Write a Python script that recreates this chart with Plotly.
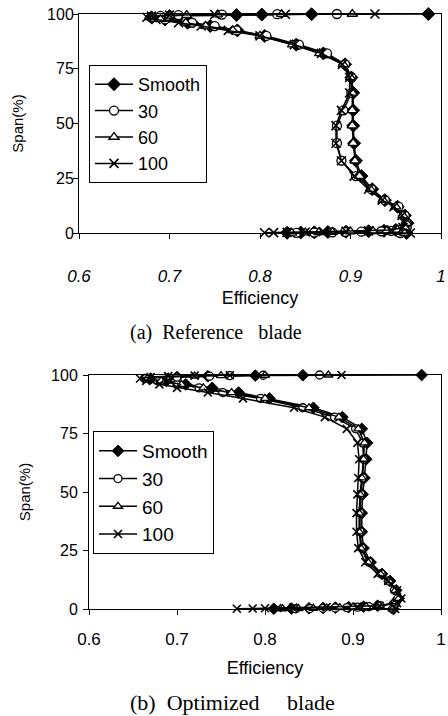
import plotly.graph_objects as go

# ---------------- data ----------------
SERIES = ["Smooth", "30", "60", "100"]

SPAN = [0, 0.1, 0.2, 0.3, 0.45, 0.6, 0.8, 1.0, 1.4, 2.5, 4.5, 8, 12, 15, 20, 26,
        33, 41, 49, 56, 64, 71, 77, 82, 86, 90, 92.5, 94.5, 96, 97.5, 98.5,
        99.1, 99.5, 99.75, 99.9, 100]

# (a) Reference blade
REF_SMOOTH = [0.962, 0.83, 0.845, 0.86, 0.875, 0.895, 0.92, 0.937, 0.95, 0.96, 0.963, 0.96,
              0.952, 0.938, 0.924, 0.912, 0.906, 0.904, 0.903, 0.903, 0.903, 0.901, 0.894,
              0.87, 0.84, 0.805, 0.775, 0.745, 0.72, 0.695, 0.68, 0.70, 0.774, 0.802, 0.857, 0.986]
REF_30 = [0.955, 0.84, 0.86, 0.88, 0.894, 0.912, 0.934, 0.945, 0.953, 0.962, 0.962, 0.960,
          0.953, 0.938, 0.923, 0.906, 0.890, 0.885, 0.885, 0.892, 0.901, 0.901, 0.894,
          0.874, 0.843, 0.807, 0.774, 0.75, 0.725, 0.695, 0.68, 0.69, 0.71, 0.758, 0.819, 0.885]
REF_60 = [0.96, 0.835, 0.85, 0.865, 0.88, 0.90, 0.925, 0.94, 0.952, 0.96, 0.962, 0.958,
          0.950, 0.936, 0.922, 0.910, 0.905, 0.903, 0.902, 0.902, 0.902, 0.900, 0.892,
          0.866, 0.836, 0.80, 0.77, 0.74, 0.718, 0.69, 0.678, 0.70, 0.719, 0.753, 0.824, 0.902]
REF_100 = [0.966, 0.805, 0.815, 0.83, 0.85, 0.87, 0.895, 0.92, 0.945, 0.958, 0.960, 0.957,
           0.948, 0.935, 0.92, 0.904, 0.890, 0.884, 0.884, 0.890, 0.899, 0.899, 0.891,
           0.868, 0.838, 0.80, 0.765, 0.735, 0.71, 0.685, 0.675, 0.68, 0.70, 0.75, 0.828, 0.927]

# (b) Optimized blade
OPT_SMOOTH = [0.946, 0.81, 0.83, 0.85, 0.866, 0.88, 0.895, 0.912, 0.928, 0.947, 0.952, 0.949,
              0.942, 0.933, 0.92, 0.912, 0.91, 0.91, 0.911, 0.913, 0.915, 0.916, 0.91,
              0.888, 0.855, 0.805, 0.77, 0.74, 0.71, 0.688, 0.67, 0.70, 0.735, 0.789, 0.843, 0.978]
OPT_30 = [0.945, 0.835, 0.851, 0.866, 0.88, 0.893, 0.905, 0.918, 0.931, 0.948, 0.951, 0.947,
          0.940, 0.932, 0.918, 0.910, 0.908, 0.908, 0.909, 0.911, 0.912, 0.911, 0.903,
          0.879, 0.843, 0.795, 0.752, 0.725, 0.70, 0.678, 0.663, 0.70, 0.737, 0.760, 0.798, 0.862]
OPT_60 = [0.945, 0.82, 0.838, 0.855, 0.87, 0.885, 0.9, 0.915, 0.93, 0.948, 0.952, 0.948,
          0.941, 0.931, 0.917, 0.909, 0.907, 0.907, 0.908, 0.91, 0.912, 0.913, 0.906,
          0.884, 0.85, 0.80, 0.762, 0.73, 0.705, 0.682, 0.666, 0.69, 0.72, 0.75, 0.80, 0.872]
OPT_100 = [0.948, 0.768, 0.786, 0.80, 0.814, 0.832, 0.87, 0.905, 0.93, 0.95, 0.955, 0.95,
           0.94, 0.928, 0.914, 0.906, 0.904, 0.904, 0.905, 0.906, 0.907, 0.905, 0.893,
           0.868, 0.833, 0.775, 0.735, 0.70, 0.68, 0.665, 0.658, 0.67, 0.69, 0.72, 0.76, 0.887]

X_TICKS = [0.6, 0.7, 0.8, 0.9, 1.0]
X_TICKTEXT = ["0.6", "0.7", "0.8", "0.9", "1"]
Y_TICKS = [0, 25, 50, 75, 100]

# ---------------- styles ----------------
FONT = "Liberation Sans, Arial, sans-serif"
SERIF = "Liberation Serif, Times New Roman, serif"

def markers(sz):
    return {
        "Smooth": dict(symbol="diamond", size=sz + 1, color="black", line=dict(color="black", width=1)),
        "30": dict(symbol="circle", size=sz, color="white", line=dict(color="black", width=1.3)),
        "60": dict(symbol="triangle-up", size=sz, color="white", line=dict(color="black", width=1.3)),
        "100": dict(symbol="x-thin", size=sz, color="black", line=dict(color="black", width=1.6)),
    }

fig = go.Figure()

ref = [REF_SMOOTH, REF_30, REF_60, REF_100]
opt = [OPT_SMOOTH, OPT_30, OPT_60, OPT_100]

mk_a = markers(9)
mk_b = markers(8)

for name, vals in zip(SERIES, ref):
    fig.add_trace(go.Scatter(
        x=vals, y=SPAN, name=name, mode="lines+markers",
        line=dict(color="black", width=1.5), marker=mk_a[name],
        xaxis="x", yaxis="y", legend="legend", legendgroup="a" + name,
        cliponaxis=False))

for name, vals in zip(SERIES, opt):
    fig.add_trace(go.Scatter(
        x=vals, y=SPAN, name=name, mode="lines+markers",
        line=dict(color="black", width=1.5), marker=mk_b[name],
        xaxis="x2", yaxis="y2", legend="legend2", legendgroup="b" + name,
        cliponaxis=False))

W, H = 448, 716

def xdom(l, r):
    return [l / W, r / W]

def ydom(t, b):
    return [1 - b / H, 1 - t / H]

axis_common = dict(showline=True, linecolor="black", linewidth=1, mirror=True,
                   ticks="outside", ticklen=5, tickcolor="black", showgrid=False,
                   zeroline=False, automargin=False)

legend_common = dict(bordercolor="black", borderwidth=1, bgcolor="white",
                     itemwidth=38, tracegroupgap=0, traceorder="grouped",
                     xanchor="left", yanchor="top")

fig.update_layout(
    width=W, height=H, margin=dict(l=0, r=0, t=0, b=0, autoexpand=False),
    paper_bgcolor="white", plot_bgcolor="white",
    font=dict(family=FONT, size=14, color="black"),
    xaxis=dict(domain=xdom(79, 441), range=[0.6, 1.0], anchor="y",
               tickvals=X_TICKS, ticktext=X_TICKTEXT,
               tickfont=dict(size=17, style="italic"), ticklabelstandoff=23,
               title=dict(text="Efficiency", standoff=5, font=dict(size=18)),
               **axis_common),
    yaxis=dict(domain=ydom(14, 233), range=[0, 100], anchor="x",
               tickvals=Y_TICKS, tickfont=dict(size=16), ticklabelstandoff=-4,
               title=dict(text="Span(%)", standoff=19, font=dict(size=15)),
               **axis_common),
    xaxis2=dict(domain=xdom(89, 441), range=[0.6, 1.0], anchor="y2",
                tickvals=X_TICKS, ticktext=X_TICKTEXT,
                tickfont=dict(size=17), ticklabelstandoff=10,
                title=dict(text="Efficiency", standoff=12, font=dict(size=18)),
                **axis_common),
    yaxis2=dict(domain=ydom(375, 609), range=[0, 100], anchor="x2",
                tickvals=Y_TICKS, tickfont=dict(size=16), ticklabelstandoff=2,
                title=dict(text="Span(%)", standoff=16, font=dict(size=15)),
                **axis_common),
    legend=dict(x=89 / W, y=1 - 65 / H, font=dict(family=FONT, size=18, color="black"),
                **legend_common),
    legend2=dict(x=93 / W, y=1 - 431 / H, font=dict(family=FONT, size=19, color="black"),
                 **legend_common),
    showlegend=True,
    annotations=[
        dict(text="(a)\u00a0\u00a0Reference\u00a0\u00a0\u00a0blade", x=216 / W, y=1 - 332 / H,
             xref="paper", yref="paper", showarrow=False, xanchor="center", yanchor="middle",
             font=dict(family=SERIF, size=20)),
        dict(text="(b)\u00a0\u00a0Optimized\u00a0\u00a0\u00a0\u00a0\u00a0blade", x=232 / W,
             y=1 - 702 / H, xref="paper", yref="paper", showarrow=False,
             xanchor="center", yanchor="middle",
             font=dict(family=SERIF, size=22)),
    ],
)

fig.write_html("out.html", config={"displayModeBar": False},
               post_script="document.body.style.margin='0px';")
